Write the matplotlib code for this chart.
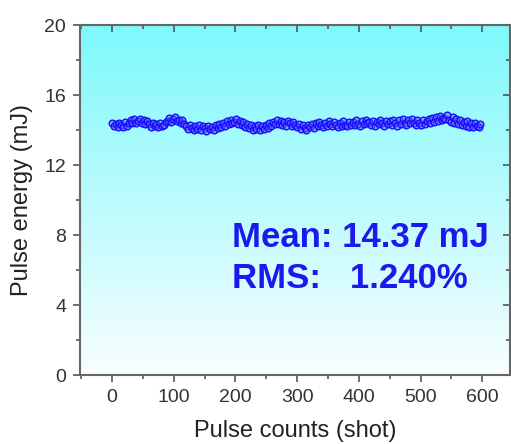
import numpy as np
import matplotlib
matplotlib.use("Agg")
import matplotlib.pyplot as plt
from matplotlib.ticker import MultipleLocator

plt.rcParams['font.family'] = ['Liberation Sans', 'DejaVu Sans']

shot_step = 3
energy = [
    14.42, 14.22, 14.35, 14.15, 14.40, 14.28, 14.18, 14.45, 14.25, 14.38,
    14.55, 14.38, 14.60, 14.40, 14.52, 14.62, 14.42, 14.58, 14.36, 14.50,
    14.35, 14.18, 14.40, 14.20, 14.32, 14.15, 14.38, 14.22, 14.30, 14.45,
    14.52, 14.68, 14.45, 14.62, 14.72, 14.50, 14.58, 14.40, 14.55, 14.35,
    14.25, 14.05, 14.30, 14.12, 14.00, 14.22, 14.08, 14.28, 13.98, 14.20,
    14.10, 13.95, 14.25, 14.05, 14.18, 14.00, 14.28, 14.12, 14.32, 14.15,
    14.40, 14.25, 14.50, 14.32, 14.55, 14.38, 14.48, 14.60, 14.35, 14.52,
    14.30, 14.45, 14.18, 14.35, 14.10, 14.28, 14.02, 14.22, 14.08, 14.30,
    13.98, 14.20, 14.05, 14.28, 14.12, 14.38, 14.25, 14.48, 14.32, 14.55,
    14.35, 14.52, 14.30, 14.48, 14.25, 14.50, 14.38, 14.22, 14.45, 14.30,
    14.15, 14.32, 14.08, 14.28, 14.12, 14.02, 14.30, 14.18, 14.35, 14.10,
    14.40, 14.22, 14.45, 14.28, 14.18, 14.42, 14.25, 14.50, 14.32, 14.20,
    14.45, 14.28, 14.15, 14.40, 14.25, 14.50, 14.30, 14.20, 14.45, 14.28,
    14.48, 14.30, 14.55, 14.35, 14.22, 14.50, 14.32, 14.58, 14.38, 14.45,
    14.30, 14.52, 14.25, 14.45, 14.32, 14.55, 14.38, 14.22, 14.50, 14.35,
    14.52, 14.30, 14.58, 14.38, 14.25, 14.55, 14.35, 14.60, 14.42, 14.28,
    14.55, 14.38, 14.62, 14.40, 14.30, 14.58, 14.42, 14.28, 14.55, 14.35,
    14.50, 14.62, 14.38, 14.68, 14.45, 14.72, 14.52, 14.80, 14.55, 14.70,
    14.60, 14.85, 14.55, 14.48, 14.75, 14.42, 14.62, 14.35, 14.58, 14.28,
    14.48, 14.22, 14.52, 14.18, 14.42, 14.15, 14.38, 14.25, 14.15, 14.32,
]
shots = np.arange(len(energy)) * shot_step

x_ticks = [0, 100, 200, 300, 400, 500, 600]
y_ticks = [0, 4, 8, 12, 16, 20]
annot_lines = ["Mean: 14.37 mJ", "RMS:   1.240%"]

fig = plt.figure(figsize=(5.11, 4.44), dpi=100)
ax = fig.add_axes([80/511, 1 - 375/444, 430/511, 350/444])

# gradient background
top = np.array([0.49, 0.975, 0.985])
bot = np.array([0.975, 0.995, 1.0])
t = np.linspace(0, 1, 256)[:, None]
grad = (top[None, :] * (1 - t) + bot[None, :] * t)[:, None, :]
ax.imshow(grad, extent=[0, 1, 0, 1], transform=ax.transAxes, aspect='auto', zorder=0)

ax.plot(shots, energy, linestyle='none', marker='o', markersize=4.8,
        mfc=(0.45, 0.35, 0.95, 0.55), mec='#1010ff', mew=1.0, zorder=3)

ax.set_xlim(-52, 645)
ax.set_ylim(0, 20)
ax.set_xticks(x_ticks)
ax.set_yticks(y_ticks)
ax.xaxis.set_minor_locator(MultipleLocator(50))
ax.yaxis.set_minor_locator(MultipleLocator(2))

ax.tick_params(axis='both', which='both', colors='#555555', labelcolor='#333333',
               labelsize=14, width=1.2, pad=5)
ax.tick_params(axis='x', which='major', direction='out', length=5, top=True)
ax.tick_params(axis='x', which='minor', direction='out', length=3, top=True)
ax.tick_params(axis='y', which='major', direction='out', length=5, right=True)
ax.tick_params(axis='y', which='minor', direction='out', length=3, right=True)
# top/right ticks inward
for tk in ax.xaxis.get_major_ticks() + ax.xaxis.get_minor_ticks():
    tk.tick2line.set_marker(3)
for tk in ax.yaxis.get_major_ticks() + ax.yaxis.get_minor_ticks():
    tk.tick2line.set_marker(0)

for sp in ax.spines.values():
    sp.set_color('#666666')
    sp.set_linewidth(1.5)

ax.set_xlabel("Pulse counts (shot)", fontsize=17, color='#222222')
ax.set_ylabel("Pulse energy (mJ)", fontsize=17, color='#222222')
ax.xaxis.set_label_coords(0.5, (375 - 420) / 350)
ax.yaxis.set_label_coords((33 - 80) / 430, 0.5)

fig.text(232/511, 1 - 247/444, annot_lines[0], fontsize=25, fontweight='bold',
         color='#1a1aee', ha='left', va='baseline')
fig.text(232/511, 1 - 288/444, annot_lines[1], fontsize=25, fontweight='bold',
         color='#1a1aee', ha='left', va='baseline')

fig.savefig("out.png", dpi=100)
